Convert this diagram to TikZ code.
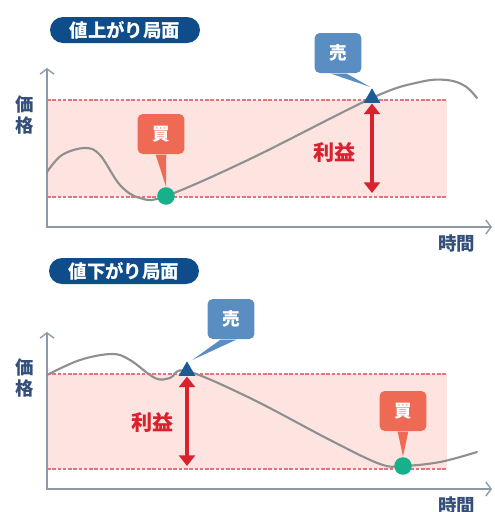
\documentclass[tikz,border=0pt]{standalone}
\usepackage{fontspec}
\setmainfont{Noto Sans CJK JP}
\usetikzlibrary{arrows.meta,shapes.geometric}
\definecolor{pillblue}{HTML}{0F4C8A}
\definecolor{sellblue}{HTML}{5A8EC2}
\definecolor{buyred}{HTML}{EF6A55}
\definecolor{markblue}{HTML}{1D5C93}
\definecolor{dotgreen}{HTML}{18B08A}
\definecolor{profitred}{HTML}{D8232F}
\definecolor{limitpink}{HTML}{E8717F}
\definecolor{bandpink}{HTML}{FDE4E0}
\definecolor{axisgrey}{HTML}{8C9AA8}
\definecolor{labelblue}{HTML}{34507A}
\definecolor{linegrey}{HTML}{8F8F8F}

\begin{document}
\begin{tikzpicture}[x=0.02cm,y=-0.02cm,thick,>={Straight Barb[length=3pt,width=8pt]},
  pill/.style={rounded corners=0.26cm,fill=pillblue,text=white,font=\fontsize{10.5}{12}\selectfont\bfseries,minimum width=3cm,minimum height=0.52cm,inner sep=0pt},
  callout/.style={rounded corners=3pt,text=white,font=\fontsize{10}{12}\selectfont\bfseries,minimum width=0.94cm,minimum height=0.8cm,inner sep=0pt},
  top mark/.style={regular polygon,regular polygon sides=3,fill=markblue,minimum size=11pt,inner sep=0pt},
  bottom mark/.style={circle,fill=dotgreen,minimum size=10pt,inner sep=0pt},
  axis/.style={<->,draw=axisgrey,line width=0.8pt},
  limit/.style={draw=limitpink,line width=0.6pt,dash pattern=on 2pt off 1pt},
  price/.style={draw=linegrey,line width=1.2pt,line cap=round},
  profit/.style={draw=profitred,line width=2.8pt,{Triangle[length=6pt,width=9pt]}-{Triangle[length=6pt,width=9pt]}},
  axis label/.style={text=labelblue,font=\fontsize{10.5}{11.5}\selectfont\bfseries,align=center,inner sep=0pt},
  profit label/.style={text=profitred,font=\fontsize{12}{14}\selectfont\bfseries,inner sep=0pt}]

  \useasboundingbox (0,0) rectangle (495,512);

  % rising phase
  \node[pill] (title1) at (125,30) {値上がり局面};
  \fill[bandpink] (47,100) rectangle (447,197);
  \draw[limit] (47,100) -- (447,100);
  \draw[limit] (47,197) -- (447,197);
  \coordinate (ytop1) at (47,68);
  \coordinate (o1) at (47,227);
  \coordinate (xend1) at (492,227);
  \draw[axis] (ytop1) -- (o1) -- (xend1);
  \node[axis label] (price1) at (25,115) {価\\格};
  \node[axis label] (time1) at (457,243) {時間};
  \draw[price] plot[smooth,tension=0.6] coordinates {(47,172) (62,155) (85,148) (100,155) (120,185) (140,198) (166,196) (250,159) (372,98) (420,82) (447,80) (465,86) (477,98)};
  \node[callout,fill=sellblue] (sell1) at (338,53) {売};
  \node[callout,fill=buyred] (buy1) at (161,134) {買};
  \node[top mark] (peak1) at (372,98) {};
  \node[bottom mark] (dip1) at (166,196) {};
  \fill[sellblue] ([xshift=-4pt]sell1.south) -- ([xshift=5pt]sell1.south) -- ([xshift=-1pt]peak1.north) -- cycle;
  \fill[buyred] ([xshift=-3pt]buy1.south) -- ([xshift=3pt]buy1.south) -- (dip1.north) -- cycle;
  \coordinate (low1) at (372,193);
  \draw[profit] (peak1.south) -- (low1);
  \node[profit label] (gain1) at (335,152) {利益};

  % falling phase
  \node[pill] (title2) at (124,271) {値下がり局面};
  \fill[bandpink] (47,374) rectangle (447,469);
  \draw[limit] (47,374) -- (447,374);
  \draw[limit] (47,469) -- (447,469);
  \coordinate (ytop2) at (47,332);
  \coordinate (o2) at (47,489);
  \coordinate (xend2) at (492,489);
  \draw[axis] (ytop2) -- (o2) -- (xend2);
  \node[axis label] (price2) at (25,378) {価\\格};
  \node[axis label] (time2) at (457,505) {時間};
  \draw[price] plot[smooth,tension=0.6] coordinates {(47,375) (80,360) (112,354) (130,360) (155,378) (170,378) (187,371) (250,398) (330,440) (380,464) (403,466) (440,462) (477,452)};
  \node[callout,fill=sellblue] (sell2) at (231,319) {売};
  \node[callout,fill=buyred] (buy2) at (403,411) {買};
  \node[top mark] (peak2) at (187,371) {};
  \node[bottom mark] (dip2) at (403,466) {};
  \fill[sellblue] ([xshift=-6pt]sell2.south) -- ([xshift=3pt]sell2.south) -- ([xshift=3pt]peak2.north) -- cycle;
  \fill[buyred] ([xshift=-3pt]buy2.south) -- ([xshift=3pt]buy2.south) -- (dip2.north) -- cycle;
  \coordinate (low2) at (187,466);
  \draw[profit] (peak2.south) -- (low2);
  \node[profit label] (gain2) at (153,422) {利益};
\end{tikzpicture}
\end{document}
